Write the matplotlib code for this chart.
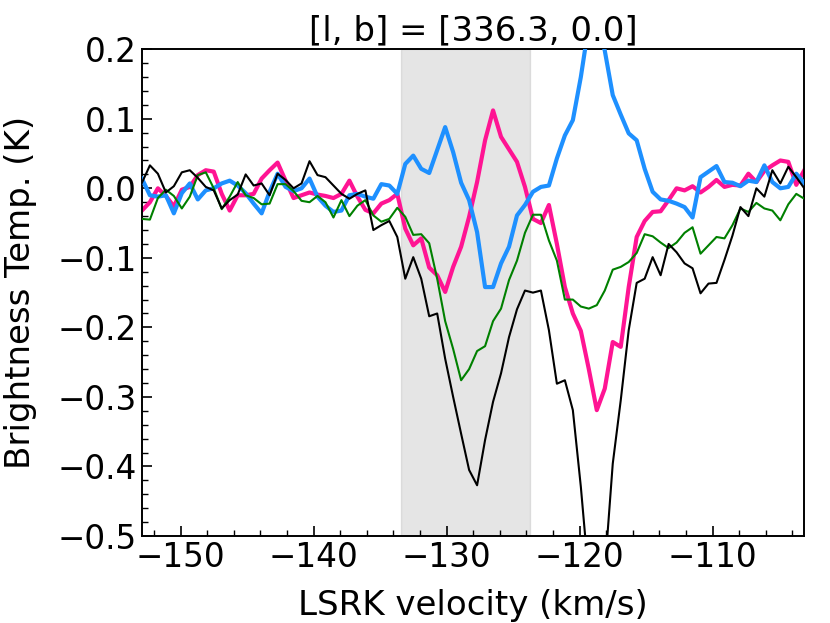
import numpy as np
import matplotlib
matplotlib.use("Agg")
import matplotlib.pyplot as plt
from matplotlib.ticker import MultipleLocator

# velocity channel grid (km/s)
v_start = -152.9
v_step = 0.6
n_chan = 84
velocity = np.linspace(v_start, v_start + v_step * (n_chan - 1), n_chan)

black_T = [0.008, 0.033, 0.021, -0.006, 0.003, 0.023, 0.026, 0.015, 0.002, -0.003,
           -0.029, -0.017, -0.009, 0.020, 0.004, 0.007, -0.010, 0.021, 0.012, 0.000,
           0.007, 0.039, 0.019, 0.016, 0.004, -0.008, -0.015, -0.008, -0.003, -0.060,
           -0.053, -0.047, -0.070, -0.130, -0.099, -0.130, -0.184, -0.180, -0.245, -0.300,
           -0.353, -0.405, -0.427, -0.362, -0.307, -0.266, -0.214, -0.174, -0.147, -0.150,
           -0.147, -0.204, -0.281, -0.276, -0.319, -0.429, -0.560, -0.620, -0.550, -0.396,
           -0.305, -0.204, -0.136, -0.130, -0.099, -0.125, -0.080, -0.092, -0.108, -0.115,
           -0.151, -0.137, -0.136, -0.103, -0.068, -0.027, -0.040, 0.000, -0.012, 0.026,
           0.007, 0.031, 0.016, 0.000]

green_T = [-0.044, -0.045, -0.014, -0.002, -0.011, -0.029, -0.012, 0.019, 0.023, 0.000,
           -0.030, -0.012, 0.009, -0.010, -0.014, -0.023, -0.022, 0.006, 0.006, -0.004,
           -0.018, -0.020, -0.011, -0.020, -0.042, -0.017, -0.040, -0.025, -0.017, -0.039,
           -0.048, -0.044, -0.028, -0.041, -0.067, -0.066, -0.079, -0.130, -0.191, -0.231,
           -0.276, -0.260, -0.234, -0.227, -0.191, -0.173, -0.132, -0.104, -0.064, -0.038,
           -0.038, -0.075, -0.104, -0.160, -0.160, -0.170, -0.173, -0.168, -0.147, -0.117,
           -0.113, -0.106, -0.093, -0.066, -0.069, -0.078, -0.086, -0.078, -0.064, -0.056,
           -0.094, -0.082, -0.070, -0.072, -0.053, -0.029, -0.034, -0.021, -0.029, -0.032,
           -0.046, -0.023, -0.008, -0.015]

pink_T = [-0.032, -0.020, 0.000, -0.011, -0.026, -0.002, 0.002, 0.019, 0.026, 0.024,
          -0.008, -0.032, -0.010, -0.010, -0.008, 0.014, 0.026, 0.037, 0.011, -0.014,
          -0.010, -0.006, -0.009, -0.011, -0.014, -0.008, 0.011, -0.012, -0.031, -0.036,
          -0.022, -0.017, -0.008, -0.058, -0.082, -0.072, -0.114, -0.125, -0.149, -0.113,
          -0.084, -0.041, 0.009, 0.069, 0.112, 0.074, 0.056, 0.038, 0.002, -0.044,
          -0.050, -0.024, -0.080, -0.142, -0.180, -0.205, -0.260, -0.319, -0.288, -0.221,
          -0.228, -0.142, -0.070, -0.047, -0.034, -0.033, -0.017, 0.000, -0.003, 0.003,
          -0.006, 0.002, 0.012, 0.002, 0.005, 0.004, 0.021, 0.009, 0.025, 0.033,
          0.040, 0.038, 0.005, 0.026]

blue_T = [0.014, -0.010, -0.012, -0.010, -0.036, -0.007, 0.007, -0.016, -0.003, 0.000,
          0.007, 0.011, 0.004, -0.007, -0.022, -0.036, -0.005, 0.021, 0.002, -0.004,
          0.000, 0.014, -0.012, -0.025, -0.034, -0.032, -0.010, -0.008, -0.012, -0.015,
          0.006, 0.004, -0.008, 0.035, 0.047, 0.028, 0.022, 0.055, 0.088, 0.052,
          0.008, -0.017, -0.063, -0.142, -0.142, -0.108, -0.084, -0.039, -0.024, -0.005,
          0.002, 0.004, 0.043, 0.076, 0.098, 0.160, 0.235, 0.240, 0.198, 0.134,
          0.106, 0.079, 0.069, 0.028, -0.005, -0.016, -0.018, -0.022, -0.027, -0.042,
          0.016, 0.024, 0.032, 0.009, 0.008, 0.003, 0.011, 0.009, 0.033, 0.009,
          0.000, 0.002, 0.021, 0.007]

span_lo, span_hi = -133.45, -123.75
title = "[l, b] = [336.3, 0.0]"

plt.rcParams['font.family'] = ['DejaVu Sans']
fig = plt.figure(figsize=(8.3, 6.23), dpi=100)
ax = fig.add_axes([0.171, 0.1396, 0.798, 0.7814])

ax.axvspan(span_lo, span_hi, color='grey', alpha=0.2, zorder=0)
ax.plot(velocity, pink_T, color='#ff1493', lw=3.0, zorder=2)
ax.plot(velocity, blue_T, color='#1e90ff', lw=3.0, zorder=3)
ax.plot(velocity, green_T, color='green', lw=1.5, zorder=4)
ax.plot(velocity, black_T, color='black', lw=1.5, zorder=5)

ax.set_xlim(velocity[0], velocity[-1])
ax.set_ylim(-0.5, 0.2)
ax.xaxis.set_major_locator(MultipleLocator(10))
ax.xaxis.set_minor_locator(MultipleLocator(2))
ax.yaxis.set_major_locator(MultipleLocator(0.1))
ax.yaxis.set_minor_locator(MultipleLocator(0.02))
ax.tick_params(which='both', direction='in', top=False, right=False, labelsize=23.5)
ax.tick_params(which='major', length=7, width=1.2)
ax.tick_params(which='minor', length=4, width=1.0)
for s in ax.spines.values():
    s.set_linewidth(1.4)

ax.set_xlabel("LSRK velocity (km/s)", fontsize=24.5, labelpad=11)
ax.set_ylabel("Brightness Temp. (K)", fontsize=24.5, labelpad=15)
ax.set_title(title, fontsize=24.5)

fig.savefig("out.png", dpi=100)
